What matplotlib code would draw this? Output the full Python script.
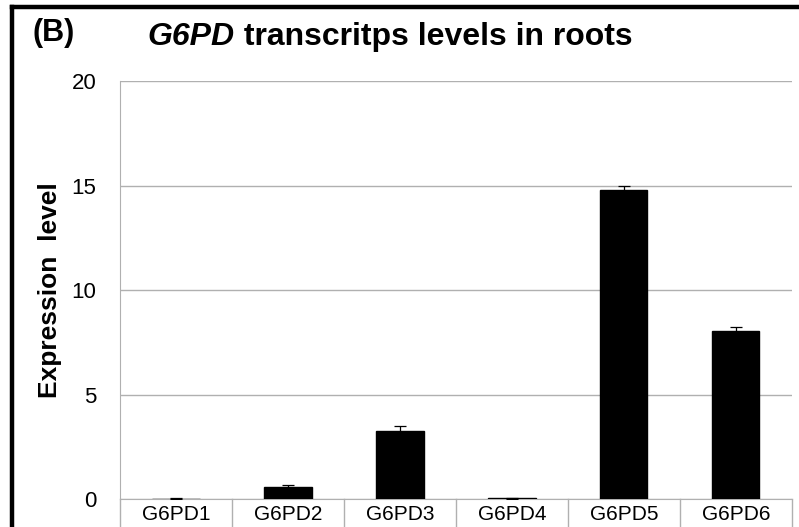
import matplotlib
matplotlib.use("Agg")
import matplotlib.pyplot as plt
from matplotlib.lines import Line2D

categories = ["G6PD1", "G6PD2", "G6PD3", "G6PD4", "G6PD5", "G6PD6"]
values = [0.02, 0.58, 3.25, 0.03, 14.8, 8.02]
errors = [0.01, 0.08, 0.25, 0.01, 0.18, 0.2]
yticks = [0, 5, 10, 15, 20]

plt.rcParams['font.family'] = ['Liberation Sans', 'DejaVu Sans']

fig = plt.figure(figsize=(7.99, 5.27), dpi=100)
ax = fig.add_axes([0.1502, 0.0531, 0.8410, 0.7932])

x = list(range(len(categories)))
ax.bar(x, values, width=0.42, color='black', edgecolor='black', zorder=3)
ax.errorbar(x, values, yerr=errors, fmt='none', ecolor='black',
            elinewidth=0.9, capsize=4, capthick=0.9, zorder=4)

ax.set_xlim(-0.5, len(categories) - 0.5)
ax.set_ylim(0, 20)
ax.set_yticks(yticks)
ax.set_yticklabels([str(t) for t in yticks], fontsize=16)
ax.tick_params(axis='y', length=0, pad=17)
ax.set_xticks(x)
ax.set_xticklabels(categories, fontsize=15)
ax.tick_params(axis='x', length=0, pad=4)
ax.grid(axis='y', color='#b0b0b0', linewidth=1.0, zorder=0)
for s in ['top', 'right']:
    ax.spines[s].set_visible(False)
ax.spines['left'].set_color('#b0b0b0')
ax.spines['bottom'].set_color('#b0b0b0')

# category table dividers
trans = ax.get_xaxis_transform()
for b in [i - 0.5 for i in range(len(categories) + 1)]:
    ax.plot([b, b], [0, -0.08], transform=trans, color='#b0b0b0',
            linewidth=1.0, clip_on=False)

ax.set_ylabel("Expression  level", fontsize=19, fontweight='bold')
ax.yaxis.set_label_coords(-0.086, 0.5)

# titles
fig.text(0.041, 0.937, "(B)", fontsize=22, fontweight='bold', ha='left', va='center')
t1 = fig.text(0.185, 0.930, "G6PD", fontsize=23, fontweight='bold',
              fontstyle='italic', ha='left', va='center')
fig.canvas.draw()
bb = t1.get_window_extent()
x_next = bb.x1 / fig.bbox.width
fig.text(x_next, 0.930, " transcritps levels in roots", fontsize=23,
         fontweight='bold', ha='left', va='center')

# frame around figure (top and left visible)
fig.add_artist(Line2D([0.0155, 1.0], [0.9865, 0.9865], transform=fig.transFigure,
                      color='black', linewidth=3.2))
fig.add_artist(Line2D([0.0155, 0.0155], [0.0, 0.9865], transform=fig.transFigure,
                      color='black', linewidth=3.2))

fig.savefig("out.png", dpi=100)
